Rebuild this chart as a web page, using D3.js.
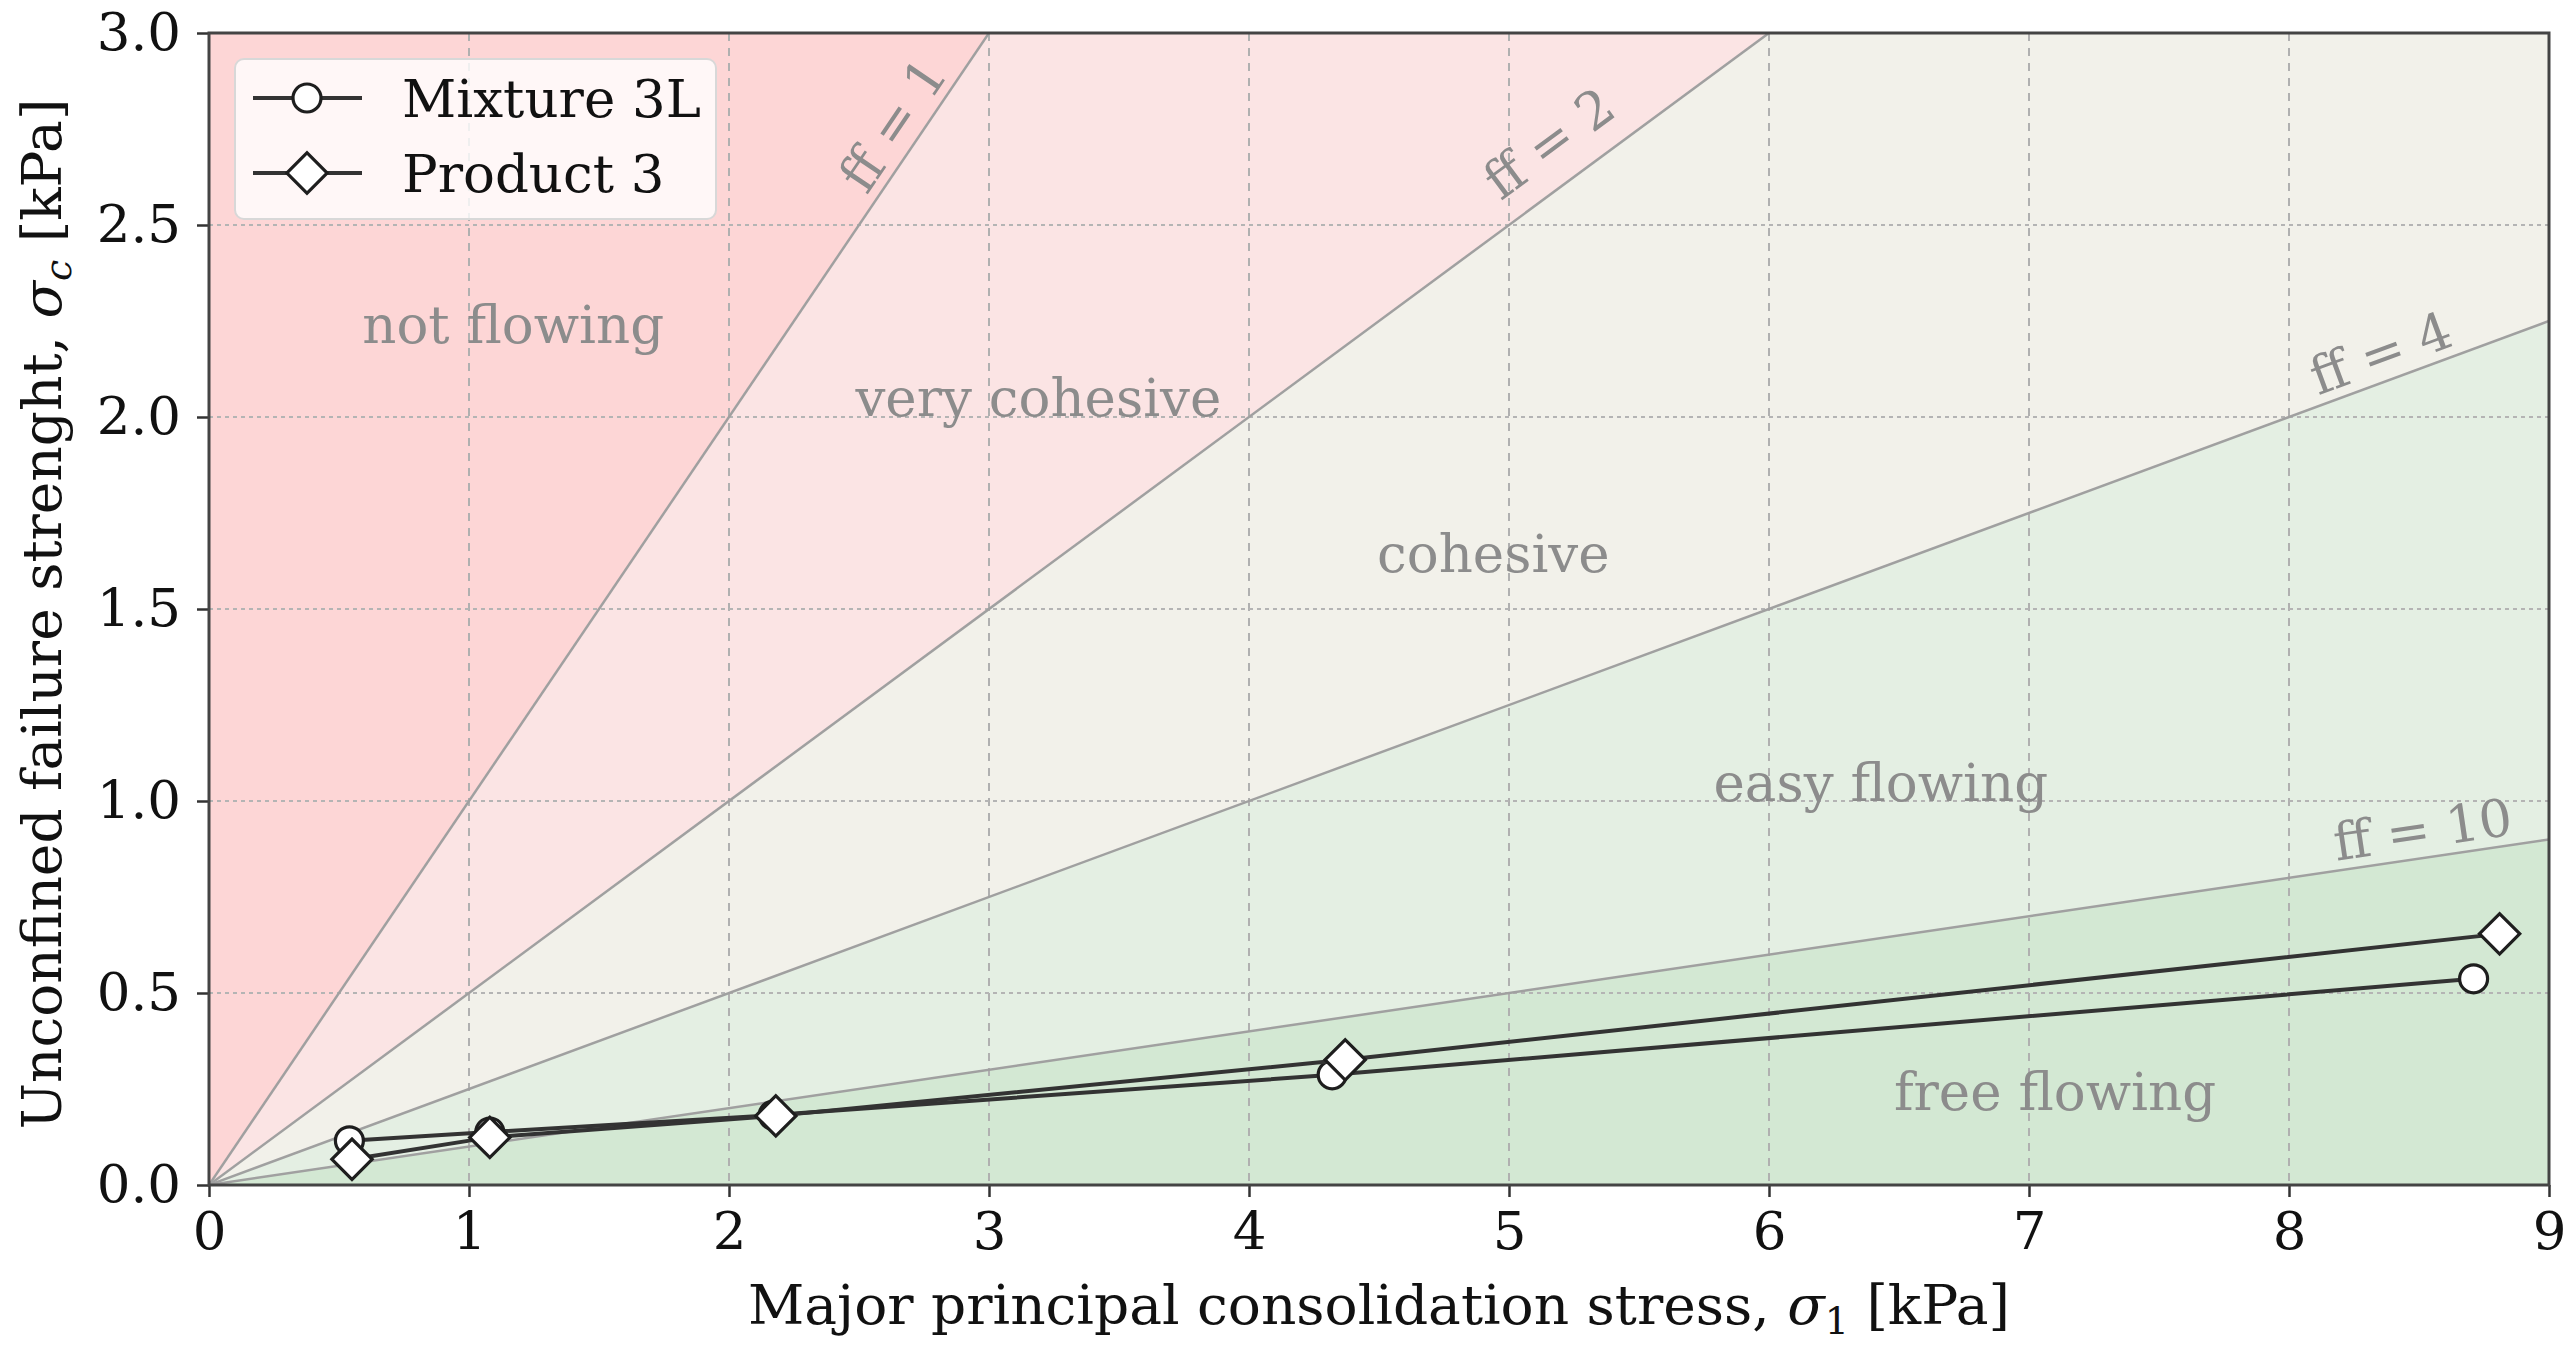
<!DOCTYPE html>
<html>
<head>
<meta charset="utf-8">
<script src="https://cdn.jsdelivr.net/npm/d3@7"></script>
<style>
  body { margin: 0; background: #fff; }
  text { font-family: "DejaVu Serif", serif; }
</style>
</head>
<body>
<div id="chart"></div>
<script>
// flow function lines ff = sigma1 / sigmac
var ffValues = [1, 2, 4, 10]
var ffLabelX = [2.72, 5.25, 8.39, 8.53] //where the label sits along its line

// flowability regions, from steepest to flattest
var regionNames = ["not flowing", "very cohesive", "cohesive", "easy flowing", "free flowing"]
var regionLow = [1, 2, 4, 10, Infinity]   //ff of the lower bounding line
var regionHigh = [0, 1, 2, 4, 10]         //ff of the upper bounding line (0 = vertical axis)
var regionLabelX = [1.17, 3.19, 4.94, 6.43, 7.1]
var regionLabelY = [2.24, 2.05, 1.645, 1.047, 0.244]
var regionColors = ["#fdd6d6", "#fbe4e4", "#f2f1ea", "#e4efe3", "#d3e8d3"]

// measured series
var mixtureX = [0.54, 1.08, 2.17, 4.32, 8.71]
var mixtureY = [0.115, 0.138, 0.182, 0.287, 0.537]
var productX = [0.55, 1.08, 2.18, 4.37, 8.81]
var productY = [0.067, 0.124, 0.180, 0.326, 0.654]

var xTicks = [0, 1, 2, 3, 4, 5, 6, 7, 8, 9]
var yTicks = [0, 0.5, 1.0, 1.5, 2.0, 2.5, 3.0]

var W = 2575, H = 1352
var margin = {top: 33, right: 26, bottom: 167, left: 209}
var plotW = W - margin.left - margin.right
var plotH = H - margin.top - margin.bottom

var svg = d3.select("#chart").append("svg")
  .attr("width", W)
  .attr("height", H)

svg.append("rect").attr("width", W).attr("height", H).attr("fill", "#fff")

var x = d3.scaleLinear().domain([0, 9]).range([0, plotW])
var y = d3.scaleLinear().domain([0, 3]).range([plotH, 0])

svg.append("defs").append("clipPath").attr("id", "plotClip")
  .append("rect").attr("width", plotW).attr("height", plotH)

var g = svg.append("g").attr("transform", `translate(${margin.left},${margin.top})`)
var clipped = g.append("g").attr("clip-path", "url(#plotClip)")

// background bands
var slope = function(ff) {
  if (ff === Infinity) return 0
  if (ff === 0) return 1000
  return 1 / ff
}
var bandX = [0, 9]
regionNames.forEach(function(name, i) {
  var area = d3.area()
    .x(function(d) { return x(d) })
    .y0(function(d) { return y(d * slope(regionLow[i])) })
    .y1(function(d) { return y(d * slope(regionHigh[i])) })
  clipped.append("path")
    .datum(bandX)
    .attr("d", area)
    .attr("fill", regionColors[i])
})

// grid
clipped.append("g").selectAll("line").data(xTicks.slice(1, -1)).enter().append("line")
  .attr("x1", function(d) { return x(d) })
  .attr("x2", function(d) { return x(d) })
  .attr("y1", 0).attr("y2", plotH)
  .style("stroke", "#b0b0b0")
  .style("stroke-width", 2)
  .style("stroke-dasharray", "8,7")
clipped.append("g").selectAll("line").data(yTicks.slice(1, -1)).enter().append("line")
  .attr("y1", function(d) { return y(d) })
  .attr("y2", function(d) { return y(d) })
  .attr("x1", 0).attr("x2", plotW)
  .style("stroke", "#b4b4b4")
  .style("stroke-width", 2)
  .style("stroke-dasharray", "4,4")

// ff lines
clipped.append("g").selectAll("line").data(ffValues).enter().append("line")
  .attr("x1", x(0)).attr("y1", y(0))
  .attr("x2", x(9)).attr("y2", function(d) { return y(9 / d) })
  .style("stroke", "#a0a0a0")
  .style("stroke-width", 2.5)

// ff labels, rotated along their line and pushed a bit above it
ffValues.forEach(function(ff, i) {
  var px = x(ffLabelX[i]), py = y(ffLabelX[i] / ff)
  var ang = Math.atan((y(0) - y(1 / ff)) / (x(1) - x(0)))
  var off = ff == 2 ? 42 : 28
  var cx = px - Math.sin(ang) * off
  var cy = py - Math.cos(ang) * off
  g.append("text")
    .attr("transform", `translate(${cx},${cy}) rotate(${-ang * 180 / Math.PI})`)
    .attr("text-anchor", "middle")
    .attr("dominant-baseline", "central")
    .style("font-size", "52px")
    .style("fill", "#8c8c8c")
    .text("ff = " + ff)
})

// region labels
g.append("g").selectAll("text").data(regionNames).enter().append("text")
  .attr("x", function(d, i) { return x(regionLabelX[i]) })
  .attr("y", function(d, i) { return y(regionLabelY[i]) })
  .attr("text-anchor", "middle")
  .attr("dominant-baseline", "central")
  .style("font-size", "53px")
  .style("fill", "#8c8c8c")
  .text(function(d) { return d })

// series
var line = d3.line().x(function(d) { return x(d[0]) }).y(function(d) { return y(d[1]) })
var mixture = d3.zip(mixtureX, mixtureY)
var product = d3.zip(productX, productY)

var circleSym = d3.symbol(d3.symbolCircle, Math.PI * 14 * 14)
var diamondSym = d3.symbol(d3.symbolSquare, 28.5 * 28.5)

function drawSeries(pts, sym, rot) {
  g.append("path").datum(pts)
    .attr("d", line)
    .style("fill", "none")
    .style("stroke", "#333")
    .style("stroke-width", 4)
  g.append("g").selectAll("path").data(pts).enter().append("path")
    .attr("d", sym)
    .attr("transform", function(d) { return `translate(${x(d[0])},${y(d[1])}) rotate(${rot})` })
    .style("fill", "#fff")
    .style("stroke", "#1e1e1e")
    .style("stroke-width", 3.2)
}
drawSeries(mixture, circleSym, 0)
drawSeries(product, diamondSym, 45)

// axes
var xAxis = d3.axisBottom(x).tickValues(xTicks).tickFormat(d3.format("d")).tickSize(12).tickPadding(14)
var yAxis = d3.axisLeft(y).tickValues(yTicks).tickFormat(d3.format(".1f")).tickSize(12).tickPadding(16)

var gx = g.append("g").attr("transform", `translate(0,${plotH})`).call(xAxis)
var gy = g.append("g").call(yAxis)
;[gx, gy].forEach(function(a) {
  a.select(".domain").remove()
  a.selectAll(".tick line").style("stroke", "#333").style("stroke-width", 2.5)
  a.selectAll(".tick text").style("font-size", "53px").style("fill", "#111")
    .style("font-family", "'DejaVu Serif', serif")
})

// frame
g.append("rect")
  .attr("width", plotW).attr("height", plotH)
  .style("fill", "none")
  .style("stroke", "#444")
  .style("stroke-width", 3)

// axis titles
var xt = svg.append("text")
  .attr("x", margin.left + plotW / 2)
  .attr("y", 1324)
  .attr("text-anchor", "middle")
  .style("font-size", "55px")
  .style("fill", "#111")
xt.append("tspan").text("Major principal consolidation stress, ")
xt.append("tspan").style("font-style", "italic").text("σ")
xt.append("tspan").attr("dy", 10).style("font-size", "38px").text("1")
xt.append("tspan").attr("dy", -10).text(" [kPa]")

var yt = svg.append("text")
  .attr("transform", `translate(61,${margin.top + plotH / 2 + 5}) rotate(-90)`)
  .attr("text-anchor", "middle")
  .style("font-size", "55px")
  .style("fill", "#111")
yt.append("tspan").text("Unconfined failure strenght, ")
yt.append("tspan").style("font-style", "italic").text("σ")
yt.append("tspan").attr("dy", 10).style("font-size", "38px").style("font-style", "italic").text("c")
yt.append("tspan").attr("dy", -10).text(" [kPa]")

// legend
var legend = g.append("g").attr("transform", "translate(26,26)")
legend.append("rect")
  .attr("width", 481).attr("height", 160).attr("rx", 9)
  .style("fill", "#fff").style("fill-opacity", 0.8)
  .style("stroke", "#d8d8d8").style("stroke-width", 2)

var legendNames = ["Mixture 3L", "Product 3"]
var legendSyms = [circleSym, diamondSym]
var legendRot = [0, 45]
legendNames.forEach(function(name, i) {
  var ly = 39 + i * 75
  legend.append("line")
    .attr("x1", 18).attr("x2", 127).attr("y1", ly).attr("y2", ly)
    .style("stroke", "#333").style("stroke-width", 4)
  legend.append("path")
    .attr("d", legendSyms[i])
    .attr("transform", `translate(72,${ly}) rotate(${legendRot[i]})`)
    .style("fill", "#fff").style("stroke", "#1e1e1e").style("stroke-width", 3.2)
  legend.append("text")
    .attr("x", 167).attr("y", ly)
    .attr("dominant-baseline", "central")
    .style("font-size", "53px")
    .style("fill", "#111")
    .text(name)
})
</script>
</body>
</html>
